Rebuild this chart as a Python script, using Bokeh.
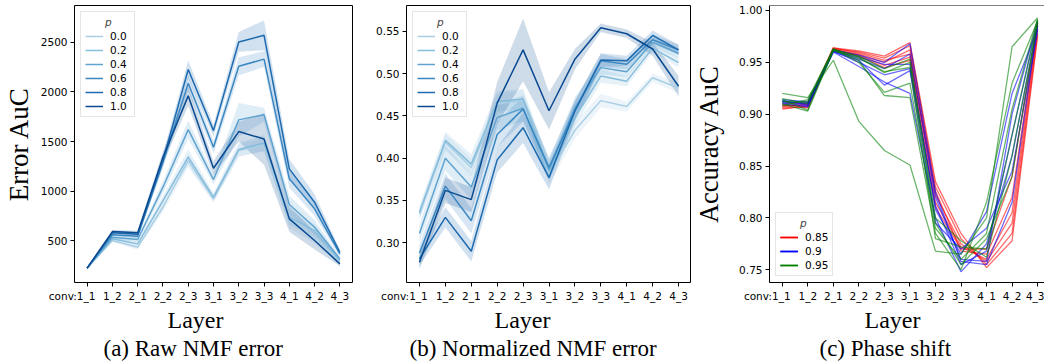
import numpy as np
from bokeh.plotting import figure
from bokeh.layouts import row
from bokeh.models import Range1d, FixedTicker, PrintfTickFormatter, Title, Span
from bokeh.embed import file_html
from bokeh.resources import INLINE

# ---------------- data ----------------
layers = ["1_1", "1_2", "2_1", "2_2", "2_3", "3_1", "3_2", "3_3", "4_1", "4_2", "4_3"]
layer_prefix = "conv:"
p_labels = ["0.0", "0.2", "0.4", "0.6", "0.8", "1.0"]
blues = ["#a9cfe5", "#86bcdc", "#5fa3d0", "#3b87c1", "#1c6aaf", "#0a4a91"]

# (a) raw NMF error: means and CI half widths
a_p00 = [225, 503, 436, 838, 1308, 922, 1409, 1470, 704, 536, 285]
a_p02 = [225, 520, 469, 905, 1342, 939, 1420, 1485, 738, 603, 301]
a_p04 = [225, 536, 513, 1040, 1620, 1117, 1718, 1770, 865, 637, 318]
a_p06 = [225, 560, 546, 1290, 2087, 1443, 2258, 2330, 1124, 822, 368]
a_p08 = [225, 580, 565, 1310, 2225, 1610, 2503, 2570, 1224, 889, 385]
a_p10 = [225, 593, 580, 1342, 1960, 1231, 1600, 1525, 721, 503, 268]
a_ci00 = [10, 20, 25, 50, 70, 40, 60, 70, 80, 60, 25]
a_ci02 = [10, 20, 25, 50, 80, 45, 70, 80, 80, 60, 25]
a_ci04 = [10, 20, 25, 60, 90, 50, 170, 70, 90, 70, 25]
a_ci06 = [10, 15, 20, 60, 80, 60, 90, 80, 90, 70, 25]
a_ci08 = [10, 15, 20, 60, 90, 60, 100, 150, 100, 80, 25]
a_ci10 = [10, 15, 20, 60, 100, 70, 100, 260, 130, 90, 25]

# (b) normalized NMF error
b_p00 = [0.334, 0.419, 0.389, 0.464, 0.468, 0.381, 0.433, 0.468, 0.461, 0.495, 0.483]
b_p02 = [0.336, 0.421, 0.393, 0.467, 0.470, 0.385, 0.448, 0.497, 0.491, 0.530, 0.513]
b_p04 = [0.311, 0.400, 0.366, 0.448, 0.459, 0.386, 0.460, 0.507, 0.502, 0.537, 0.524]
b_p06 = [0.288, 0.367, 0.326, 0.428, 0.458, 0.389, 0.456, 0.515, 0.511, 0.540, 0.528]
b_p08 = [0.281, 0.330, 0.290, 0.398, 0.436, 0.377, 0.456, 0.516, 0.515, 0.545, 0.528]
b_p10 = [0.277, 0.362, 0.351, 0.465, 0.528, 0.456, 0.517, 0.554, 0.547, 0.529, 0.485]
b_ci00 = [0.008, 0.010, 0.010, 0.012, 0.012, 0.012, 0.010, 0.008, 0.006, 0.005, 0.006]
b_ci02 = [0.008, 0.010, 0.012, 0.012, 0.012, 0.012, 0.010, 0.008, 0.006, 0.005, 0.006]
b_ci04 = [0.010, 0.015, 0.015, 0.015, 0.015, 0.012, 0.012, 0.008, 0.006, 0.006, 0.006]
b_ci06 = [0.010, 0.015, 0.015, 0.015, 0.015, 0.012, 0.012, 0.008, 0.006, 0.006, 0.006]
b_ci08 = [0.008, 0.012, 0.012, 0.015, 0.018, 0.014, 0.012, 0.008, 0.006, 0.006, 0.006]
b_ci10 = [0.008, 0.015, 0.015, 0.025, 0.037, 0.022, 0.012, 0.005, 0.005, 0.008, 0.012]

# (c) phase shift: individual runs per p
c_p_labels = ["0.85", "0.9", "0.95"]
c_colors = ["#ff0000", "#0000ff", "#008000"]
c_runs_085 = [
    [0.905, 0.908, 0.964, 0.961, 0.956, 0.969, 0.835, 0.785, 0.752, 0.778, 0.975],
    [0.906, 0.907, 0.963, 0.960, 0.954, 0.966, 0.830, 0.780, 0.755, 0.785, 0.978],
    [0.908, 0.909, 0.962, 0.958, 0.950, 0.962, 0.822, 0.775, 0.758, 0.795, 0.982],
    [0.910, 0.911, 0.964, 0.959, 0.952, 0.958, 0.815, 0.772, 0.760, 0.805, 0.985],
    [0.907, 0.910, 0.963, 0.957, 0.947, 0.955, 0.826, 0.768, 0.765, 0.820, 0.987],
    [0.909, 0.906, 0.962, 0.956, 0.945, 0.952, 0.810, 0.770, 0.770, 0.840, 0.990],
]
c_runs_090 = [
    [0.912, 0.910, 0.960, 0.946, 0.931, 0.920, 0.800, 0.748, 0.775, 0.860, 0.985],
    [0.914, 0.912, 0.961, 0.950, 0.938, 0.944, 0.812, 0.755, 0.768, 0.880, 0.988],
    [0.911, 0.908, 0.962, 0.953, 0.944, 0.958, 0.820, 0.760, 0.758, 0.900, 0.990],
    [0.910, 0.907, 0.961, 0.955, 0.948, 0.948, 0.808, 0.765, 0.806, 0.920, 0.982],
    [0.913, 0.909, 0.960, 0.952, 0.928, 0.942, 0.795, 0.770, 0.790, 0.845, 0.980],
    [0.912, 0.911, 0.962, 0.957, 0.950, 0.968, 0.825, 0.758, 0.755, 0.815, 0.986],
]
c_runs_095 = [
    [0.920, 0.916, 0.952, 0.893, 0.865, 0.851, 0.768, 0.765, 0.800, 0.965, 0.993],
    [0.914, 0.904, 0.962, 0.952, 0.918, 0.916, 0.785, 0.750, 0.815, 0.930, 0.990],
    [0.915, 0.910, 0.963, 0.950, 0.921, 0.930, 0.790, 0.760, 0.785, 0.905, 0.992],
    [0.910, 0.903, 0.961, 0.954, 0.941, 0.945, 0.780, 0.772, 0.770, 0.880, 0.991],
    [0.912, 0.912, 0.962, 0.956, 0.944, 0.953, 0.800, 0.778, 0.762, 0.860, 0.988],
    [0.908, 0.914, 0.963, 0.955, 0.940, 0.950, 0.795, 0.755, 0.780, 0.840, 0.989],
]

a_yticks = [500, 1000, 1500, 2000, 2500]
b_yticks = [0.30, 0.35, 0.40, 0.45, 0.50, 0.55]
c_yticks = [0.75, 0.80, 0.85, 0.90, 0.95, 1.00]

TICK_FONT = "DejaVu Sans"
SERIF = "Liberation Serif"
NBSP = "\u00a0"
x = list(range(len(layers)))


def tick_overrides():
    ov = {i: layers[i] for i in x}
    # the "conv:" prefix hangs to the left of the first label; pad the right side so
    # that the layer name itself stays centred on its tick
    ov[0] = layer_prefix + layers[0] + NBSP * 9
    return ov


def style(p, yticks, yfmt=None, outline=True):
    p.xgrid.visible = False
    p.ygrid.visible = False
    p.background_fill_color = "white"
    p.border_fill_color = "white"
    if outline:
        p.outline_line_color = "black"
        p.outline_line_width = 1
        p.outline_line_alpha = 1
    else:
        p.outline_line_color = None
    for ax in (p.xaxis[0], p.yaxis[0]):
        ax.axis_line_color = None if outline else "black"
        ax.major_tick_out = 4
        ax.major_tick_in = 0
        ax.minor_tick_line_color = None
        ax.major_tick_line_color = "black"
        ax.major_label_text_font = TICK_FONT
        ax.major_label_text_font_size = "10.5px"
        ax.major_label_text_color = "black"
        ax.major_label_standoff = 3
    p.xaxis[0].ticker = FixedTicker(ticks=x)
    p.xaxis[0].major_label_overrides = tick_overrides()
    p.yaxis[0].ticker = FixedTicker(ticks=yticks)
    if yfmt:
        p.yaxis[0].formatter = PrintfTickFormatter(format=yfmt)


def add_bottom_titles(p, caption, layer_offset, cap_offset):
    p.add_layout(Title(text="Layer", align="left", offset=layer_offset, text_font=SERIF,
                       text_font_size="24px", text_font_style="normal", text_color="black",
                       standoff=1), "below")
    p.add_layout(Title(text=caption, align="left", offset=cap_offset, text_font=SERIF,
                       text_font_size="23px", text_font_style="normal", text_color="black",
                       standoff=0), "below")


def style_legend(p, location):
    lg = p.legend[0]
    lg.location = location
    lg.title = NBSP * 6 + "p"
    lg.title_text_font = TICK_FONT
    lg.title_text_font_style = "italic"
    lg.title_text_font_size = "10.5px"
    lg.title_standoff = 2
    lg.label_text_font = TICK_FONT
    lg.label_text_font_size = "10.5px"
    lg.label_text_color = "black"
    lg.glyph_width = 18
    lg.glyph_height = 12
    lg.label_height = 12
    lg.label_standoff = 7
    lg.spacing = 2
    lg.padding = 4
    lg.margin = 6
    lg.border_line_color = "#cccccc"
    lg.background_fill_alpha = 0.8


# ---------------- panel (a) ----------------
pa = figure(width=362, height=362, x_range=Range1d(-0.5, 10.5), y_range=Range1d(80, 2870),
            output_backend="svg", toolbar_location=None,
            min_border_left=71, min_border_right=10, min_border_top=5, min_border_bottom=80)
a_means = [a_p00, a_p02, a_p04, a_p06, a_p08, a_p10]
a_cis = [a_ci00, a_ci02, a_ci04, a_ci06, a_ci08, a_ci10]
for m, c, col in zip(a_means, a_cis, blues):
    m = np.array(m, float); c = np.array(c, float)
    pa.varea(x=x, y1=m - c, y2=m + c, fill_color=col, fill_alpha=0.2)
for m, col, lab in zip(a_means, blues, p_labels):
    pa.line(x, m, line_color=col, line_width=1.5, legend_label=lab)
style(pa, a_yticks)
pa.yaxis[0].axis_label = "Error AuC"
pa.yaxis[0].axis_label_text_font = SERIF
pa.yaxis[0].axis_label_text_font_size = "27px"
pa.yaxis[0].axis_label_text_font_style = "normal"
pa.yaxis[0].axis_label_text_color = "black"
pa.yaxis[0].axis_label_standoff = 4
style_legend(pa, "top_left")
add_bottom_titles(pa, "(a) Raw NMF error", 93, 29)

# ---------------- panel (b) ----------------
pb = figure(width=329, height=362, x_range=Range1d(-0.5, 10.5), y_range=Range1d(0.2531, 0.5804),
            output_backend="svg", toolbar_location=None,
            min_border_left=44, min_border_right=0, min_border_top=5, min_border_bottom=80)
b_means = [b_p00, b_p02, b_p04, b_p06, b_p08, b_p10]
b_cis = [b_ci00, b_ci02, b_ci04, b_ci06, b_ci08, b_ci10]
for m, c, col in zip(b_means, b_cis, blues):
    m = np.array(m, float); c = np.array(c, float)
    pb.varea(x=x, y1=m - c, y2=m + c, fill_color=col, fill_alpha=0.2)
for m, col, lab in zip(b_means, blues, p_labels):
    pb.line(x, m, line_color=col, line_width=1.5, legend_label=lab)
style(pb, b_yticks, "%.2f")
style_legend(pb, "top_left")
add_bottom_titles(pb, "(b) Normalized NMF error", 88, 3)

# ---------------- panel (c) ----------------
pc = figure(width=353, height=362, x_range=Range1d(-0.5, 10.27), y_range=Range1d(0.7377, 1.0048),
            output_backend="svg", toolbar_location=None,
            min_border_left=73, min_border_right=0, min_border_top=5, min_border_bottom=80)
for runs, col, lab in zip([c_runs_085, c_runs_090, c_runs_095], c_colors, c_p_labels):
    for r in runs:
        pc.line(x, r, line_color=col, line_width=1.3, line_alpha=0.58, legend_label=lab)
style(pc, c_yticks, "%.2f", outline=False)
pc.add_layout(Span(location=pc.y_range.end, dimension="width", line_color="black", line_width=1))
pc.yaxis[0].axis_label = "Accuracy AuC"
pc.yaxis[0].axis_label_text_font = SERIF
pc.yaxis[0].axis_label_text_font_size = "26.5px"
pc.yaxis[0].axis_label_text_font_style = "normal"
pc.yaxis[0].axis_label_text_color = "black"
pc.yaxis[0].axis_label_standoff = 12
style_legend(pc, "bottom_left")
add_bottom_titles(pc, "(c) Phase shift", 95, 50)

layout = row(pa, pb, pc)
open("out.html", "w").write(file_html(layout, INLINE))
